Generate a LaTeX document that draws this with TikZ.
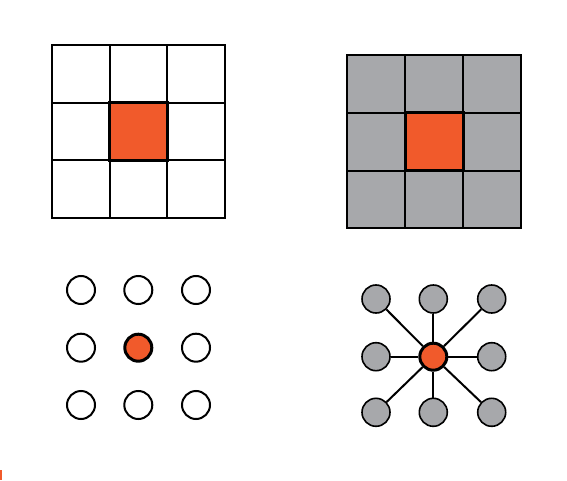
\documentclass[tikz,border=0pt]{standalone}
\definecolor{orng}{HTML}{F15A2B}
\definecolor{gry}{HTML}{A7A8AB}
\begin{document}
\begin{tikzpicture}[x=1pt,y=-1pt,
  gridline/.style={line width=2pt,black},
  centersq/.style={fill=orng,draw=black,line width=3pt},
  opencirc/.style={circle,draw=black,line width=2pt,fill=white,minimum size=28pt,inner sep=0pt},
  greycirc/.style={circle,draw=black,line width=1.6pt,fill=gry,minimum size=28pt,inner sep=0pt},
  orngcirc/.style={circle,draw=black,line width=3pt,fill=orng,minimum size=27pt,inner sep=0pt},
  link/.style={line width=2pt,black}]
\useasboundingbox (0,0) rectangle (567,481);
% left grid
\draw[gridline] (52,45) rectangle (225,218);
\draw[gridline] (109.7,45) -- (109.7,218) (167.3,45) -- (167.3,218)
  (52,102.7) -- (225,102.7) (52,160.3) -- (225,160.3);
\draw[centersq] (109.7,102.7) rectangle (167.3,160.3);
% right grid
\fill[gry] (347,55) rectangle (521,228);
\draw[gridline] (347,55) rectangle (521,228);
\draw[gridline] (405,55) -- (405,228) (463,55) -- (463,228)
  (347,113) -- (521,113) (347,170.7) -- (521,170.7);
\draw[centersq] (405,113) rectangle (463,170.7);
% left circles
\node[opencirc] (a1) at (81,290) {};
\node[opencirc] (a2) at (138.3,290) {};
\node[opencirc] (a3) at (196,290) {};
\node[opencirc] (a4) at (81,347.7) {};
\node[orngcirc] (a5) at (138.3,347.7) {};
\node[opencirc] (a6) at (196,347.7) {};
\node[opencirc] (a7) at (81,405) {};
\node[opencirc] (a8) at (138.3,405) {};
\node[opencirc] (a9) at (196,405) {};
% right graph
\node[greycirc] (b1) at (376,299) {};
\node[greycirc] (b2) at (433.3,299) {};
\node[greycirc] (b3) at (491.7,299) {};
\node[greycirc] (b4) at (376,356.7) {};
\node[greycirc] (b6) at (491.7,356.7) {};
\node[greycirc] (b7) at (376,412.3) {};
\node[greycirc] (b8) at (433.3,412.3) {};
\node[greycirc] (b9) at (491.7,412.3) {};
\node[orngcirc] (b5) at (433.3,356.7) {};
\foreach \n in {b1,b2,b3,b4,b6,b7,b8,b9} \draw[link] (b5) -- (\n);
% small mark
\fill[orng] (0,470) rectangle (1.5,480);
\end{tikzpicture}
\end{document}
